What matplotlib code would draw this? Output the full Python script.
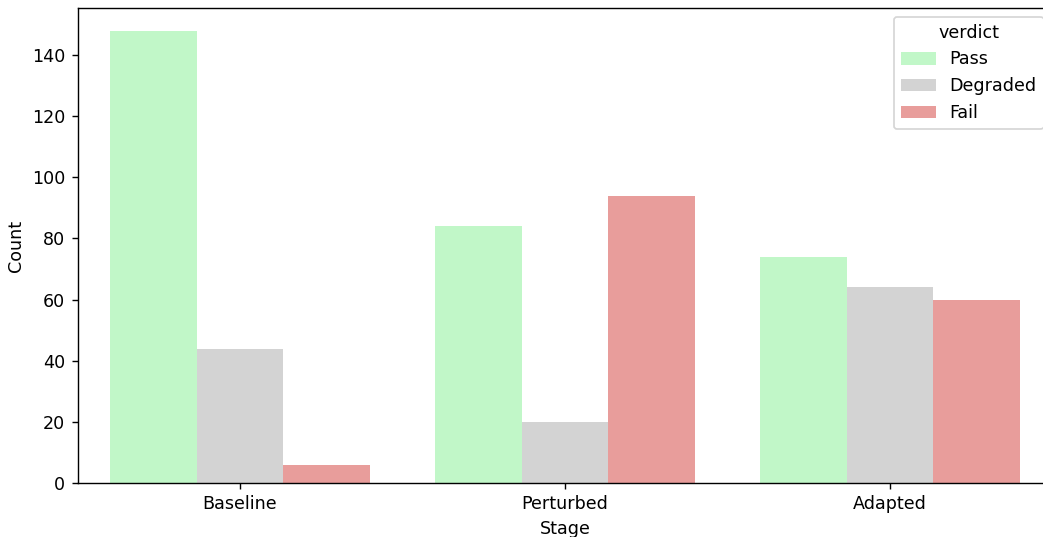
import numpy as np
import matplotlib.pyplot as plt

stages = ['Baseline', 'Perturbed', 'Adapted']
verdicts = ['Pass', 'Degraded', 'Fail']
pass_counts = [148, 84, 74]
degraded_counts = [44, 20, 64]
fail_counts = [6, 94, 60]
colors = ['#c1f7c8', '#d3d3d3', '#e89d9b']

dpi = 126
fig = plt.figure(figsize=(1043 / dpi, 537 / dpi), dpi=dpi)
# axes run past the right edge (reference is cropped there)
ax = fig.add_axes([77.5 / 1043, 54 / 537, 975 / 1043, 475 / 537])

x = np.arange(len(stages))
w = 0.8 / 3
for i, (name, vals) in enumerate(zip(verdicts, [pass_counts, degraded_counts, fail_counts])):
    ax.bar(x + (i - 1) * w, vals, w, color=colors[i], label=name)

ax.set_xticks(x)
ax.set_xticklabels(stages)
ax.set_xlim(-0.5, 2.5)
ax.set_ylim(0, 155.4)
ax.set_xlabel('Stage')
ax.set_ylabel('Count')
ax.legend(title='verdict', loc='upper right')

plt.savefig('out.png', dpi=dpi)
